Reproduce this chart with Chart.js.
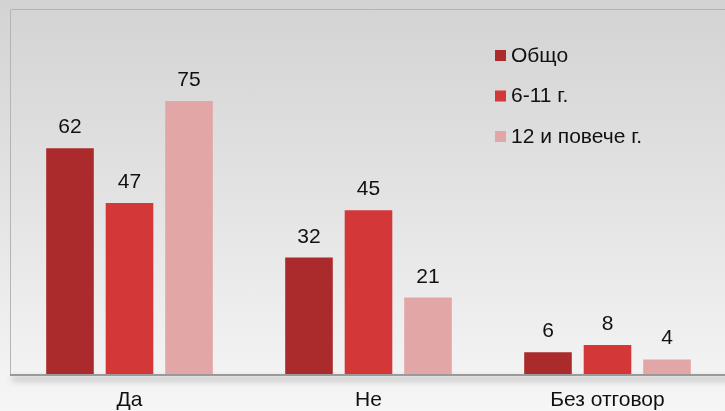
<!DOCTYPE html>
<html>
<head>
<meta charset="utf-8">
<script src="https://cdn.jsdelivr.net/npm/chart.js@4.4.1/dist/chart.umd.min.js"></script>
<style>
    html, body { margin: 0; padding: 0; }
    body {
        width: 725px; height: 411px; overflow: hidden;
        background: linear-gradient(to bottom, #d3d3d3 0%, #e2e2e2 45%, #f6f6f6 100%);
    }
    #wrap { position: relative; width: 740px; height: 411px; }
</style>
</head>
<body>
<div id="wrap"><canvas id="surveyChart" width="740" height="411"></canvas></div>
<script>
const categories = ['Да', 'Не', 'Без отговор'];
const seriesNames = ['Общо', '6-11 г.', '12 и повече г.'];
const totalValues = [62, 32, 6];
const youngValues = [47, 45, 8];
const olderValues = [75, 21, 4];
const BAR_COLORS = ['#ab2a2b', '#d33738', '#e3a6a7'];
const FONT = '"Liberation Sans", Arial, sans-serif';

// frame round the plot area, with a soft shadow under the base line
const framePlugin = {
    id: 'frame',
    beforeDatasetsDraw(chart) {
        const { ctx, chartArea: a } = chart;
        ctx.save();
        ctx.strokeStyle = '#b4b4b4';
        ctx.lineWidth = 1;
        ctx.beginPath();
        ctx.moveTo(a.left + 0.5, a.bottom);
        ctx.lineTo(a.left + 0.5, a.top - 0.5);
        ctx.lineTo(a.right + 20, a.top - 0.5);
        ctx.stroke();
        ctx.shadowColor = 'rgba(0,0,0,0.45)';
        ctx.shadowBlur = 6;
        ctx.shadowOffsetY = 4;
        ctx.shadowOffsetX = 2;
        ctx.fillStyle = '#9a9a9a';
        ctx.fillRect(a.left, a.bottom, a.right - a.left + 20, 2);
        ctx.restore();
    }
};

// numbers above the bars
const valueLabels = {
    id: 'valueLabels',
    afterDatasetsDraw(chart) {
        const { ctx } = chart;
        ctx.save();
        ctx.fillStyle = '#111';
        ctx.font = '21px ' + FONT;
        ctx.textAlign = 'center';
        ctx.textBaseline = 'alphabetic';
        chart.data.datasets.forEach((ds, i) => {
            chart.getDatasetMeta(i).data.forEach((bar, j) => {
                ctx.fillText(ds.data[j], bar.x, bar.y - 15);
            });
        });
        ctx.restore();
    }
};

// legend drawn inside the plot, top right
const innerLegend = {
    id: 'innerLegend',
    afterDraw(chart) {
        const { ctx } = chart;
        const x = 495, y0 = 55, step = 40.5;
        ctx.save();
        ctx.font = '21px ' + FONT;
        ctx.textBaseline = 'middle';
        ctx.textAlign = 'left';
        chart.data.datasets.forEach((ds, i) => {
            const y = y0 + i * step;
            ctx.fillStyle = ds.backgroundColor;
            ctx.fillRect(x, y - 5, 11, 11);
            ctx.fillStyle = '#111';
            ctx.fillText(ds.label, x + 16, y + 1);
        });
        ctx.restore();
    }
};

new Chart(document.getElementById('surveyChart'), {
    type: 'bar',
    data: {
        labels: categories,
        datasets: [
            { label: seriesNames[0], data: totalValues, backgroundColor: BAR_COLORS[0] },
            { label: seriesNames[1], data: youngValues, backgroundColor: BAR_COLORS[1] },
            { label: seriesNames[2], data: olderValues, backgroundColor: BAR_COLORS[2] }
        ]
    },
    options: {
        responsive: false,
        animation: false,
        layout: { padding: { left: 10, top: 10, right: 13, bottom: 0 } },
        datasets: { bar: { categoryPercentage: 0.747, barPercentage: 0.8 } },
        plugins: { legend: { display: false }, tooltip: { enabled: false } },
        scales: {
            x: {
                grid: { display: false },
                border: { display: false },
                ticks: { color: '#111', font: { size: 21, family: FONT }, padding: 6 },
                afterFit(scale) { scale.height = 37; }
            },
            y: { display: false, min: 0, max: 100 }
        }
    },
    plugins: [framePlugin, valueLabels, innerLegend]
});
</script>
</body>
</html>
